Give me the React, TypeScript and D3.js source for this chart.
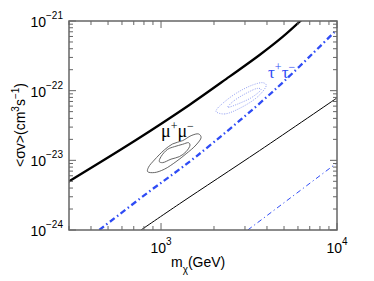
import React from "react";
import * as d3 from "d3";

// curves (mass in GeV, <sigma v> in cm^3 s^-1)
const thickBlack: [number, number][] = [
  [296, 4.9e-24], [721, 1.96e-23], [1449, 6.24e-23], [2449, 1.59e-22],
  [3630, 3.25e-22], [4925, 5.96e-22], [6266, 1.03e-21],
];
const thinBlack: [number, number][] = [
  [770, 1e-24], [1271, 2.37e-24], [3630, 1.38e-23], [9930, 7.78e-23],
];
const thickBlue: [number, number][] = [
  [446, 1e-24], [836, 3.4e-24], [1581, 1.13e-23], [4416, 1.02e-22], [9930, 7.43e-22],
];
const thinBlue: [number, number][] = [
  [3112, 1e-24], [9930, 9.08e-24],
];

// mu+mu- contours (grey)
const muOuter: [number, number][] = [
  [839, 6.89e-24], [916, 6.67e-24], [1044, 7.45e-24], [1217, 9.57e-24], [1388, 1.24e-23],
  [1581, 1.66e-23], [1690, 2.14e-23], [1637, 2.39e-23], [1482, 2.26e-23], [1328, 1.92e-23],
  [1164, 1.72e-23], [1044, 1.41e-23], [916, 1.01e-23], [849, 7.96e-24],
];
const muInner: [number, number][] = [
  [978, 9.57e-24], [1021, 9.27e-24], [1140, 1.04e-23], [1271, 1.13e-23], [1388, 1.33e-23],
  [1462, 1.66e-23], [1435, 1.79e-23], [1328, 1.7e-23], [1191, 1.57e-23], [1091, 1.44e-23],
  [1000, 1.13e-23],
];
// tau+tau- contours (blue dotted)
const tauOuter: [number, number][] = [
  [2056, 5.0e-23], [2291, 4.63e-23], [2915, 5.89e-23], [3630, 8.67e-23], [3963, 1.21e-22],
  [3793, 1.3e-22], [3327, 1.21e-22], [2674, 9.18e-23], [2244, 6.59e-23], [2075, 5.41e-23],
];
const tauInner: [number, number][] = [
  [2393, 5.78e-23], [2793, 6.59e-23], [3327, 8.2e-23], [3707, 1.05e-22], [3548, 1.08e-22],
  [3048, 9.18e-23], [2559, 6.95e-23],
];

const xMajor = [1e3, 1e4];
const xExp = ["3", "4"];
const yMajor = [1e-24, 1e-23, 1e-22, 1e-21];
const yExp = ["−24", "−23", "−22", "−21"];

const W = 374, H = 281;
const left = 69, right = 337, top = 21, bottom = 230;

const x = d3.scaleLog().domain([300, 1e4]).range([left, right]);
const y = d3.scaleLog().domain([1e-24, 1e-21]).range([bottom, top]);

const xMinor: number[] = [];
for (const d of [100, 1000]) for (let k = 2; k <= 9; k++) {
  const v = d * k;
  if (v >= 300 && v < 1e4) xMinor.push(v);
}
const yMinor: number[] = [];
for (const d of [1e-24, 1e-23, 1e-22]) for (let k = 2; k <= 9; k++) yMinor.push(d * k);

const line = d3.line<[number, number]>().x(d => x(d[0])).y(d => y(d[1])).curve(d3.curveCatmullRom);
const closed = d3.line<[number, number]>().x(d => x(d[0])).y(d => y(d[1])).curve(d3.curveCatmullRomClosed);

const BLUE = "#2f4cf5";
const AXIS = "#666";
const sans = "'Liberation Sans', Arial, sans-serif";
const serif = "'Liberation Serif', 'Times New Roman', serif";

export default function App() {
  return (
    <svg width={W} height={H} style={{ position: "absolute", left: 0, top: 0, background: "#fff" }}>
      <defs>
        <clipPath id="plot">
          <rect x={left} y={top} width={right - left} height={bottom - top} />
        </clipPath>
      </defs>

      <g clipPath="url(#plot)" fill="none">
        <path d={line(thickBlack)!} stroke="#000" strokeWidth={2.3} />
        <path d={line(thinBlack)!} stroke="#000" strokeWidth={1} />
        <path d={line(thickBlue)!} stroke={BLUE} strokeWidth={2.3} strokeDasharray="6 3 1.5 3" />
        <path d={line(thinBlue)!} stroke={BLUE} strokeWidth={1} strokeDasharray="5 3 1.2 3" />
        <path d={closed(muOuter)!} stroke="#555" strokeWidth={0.9} />
        <path d={closed(muInner)!} stroke="#555" strokeWidth={0.9} />
        <path d={closed(tauOuter)!} stroke="#7788ee" strokeWidth={0.8} strokeDasharray="1 1.3" />
        <path d={closed(tauInner)!} stroke="#7788ee" strokeWidth={0.8} strokeDasharray="1 1.3" />
      </g>

      {/* curve labels */}
      <text x={161} y={137} fontFamily={serif} fontSize={18} fill="#000">
        μ<tspan dy={-7} fontSize={12}>+</tspan><tspan dy={7}>μ</tspan><tspan dy={-7} fontSize={12}>−</tspan>
      </text>
      <text x={268} y={78} fontFamily={serif} fontSize={17} fill={BLUE}>
        τ<tspan dy={-7} fontSize={12}>+</tspan><tspan dy={7}>τ</tspan><tspan dy={-7} fontSize={12}>−</tspan>
      </text>

      {/* ticks */}
      <g stroke={AXIS} strokeWidth={1}>
        {xMajor.map(v => (
          <g key={"xM" + v}>
            <line x1={x(v)} x2={x(v)} y1={bottom} y2={bottom - 7} />
            <line x1={x(v)} x2={x(v)} y1={top} y2={top + 7} />
          </g>
        ))}
        {xMinor.map(v => (
          <g key={"xm" + v}>
            <line x1={x(v)} x2={x(v)} y1={bottom} y2={bottom - 4} />
            <line x1={x(v)} x2={x(v)} y1={top} y2={top + 4} />
          </g>
        ))}
        {yMajor.map(v => (
          <g key={"yM" + v}>
            <line x1={left} x2={left + 7} y1={y(v)} y2={y(v)} />
            <line x1={right} x2={right - 7} y1={y(v)} y2={y(v)} />
          </g>
        ))}
        {yMinor.map(v => (
          <g key={"ym" + v}>
            <line x1={left} x2={left + 4} y1={y(v)} y2={y(v)} />
            <line x1={right} x2={right - 4} y1={y(v)} y2={y(v)} />
          </g>
        ))}
      </g>
      <rect x={left} y={top} width={right - left} height={bottom - top} fill="none" stroke={AXIS} strokeWidth={1.5} />

      {/* tick labels */}
      {xMajor.map((v, i) => (
        <text key={"xl" + v} x={x(v)} y={253} textAnchor="middle" fontFamily={sans} fontSize={14}>
          10<tspan dy={-8} fontSize={10}>{xExp[i]}</tspan>
        </text>
      ))}
      {yMajor.map((v, i) => (
        <text key={"yl" + v} x={63} y={y(v) + 6} textAnchor="end" fontFamily={sans} fontSize={14}>
          10<tspan dy={-8} fontSize={10}>{yExp[i]}</tspan>
        </text>
      ))}

      {/* axis titles */}
      <text x={171} y={267} fontFamily={sans} fontSize={14}>
        m<tspan dy={6} fontSize={10}>χ</tspan><tspan dy={-6}>(GeV)</tspan>
      </text>
      <text transform="translate(25,125) rotate(-90)" textAnchor="middle" fontFamily={sans} fontSize={14}>
        &lt;σv&gt;(cm<tspan dy={-6} fontSize={10}>3</tspan><tspan dy={6}>s</tspan>
        <tspan dy={-6} fontSize={10}>−1</tspan><tspan dy={6}>)</tspan>
      </text>
    </svg>
  );
}
